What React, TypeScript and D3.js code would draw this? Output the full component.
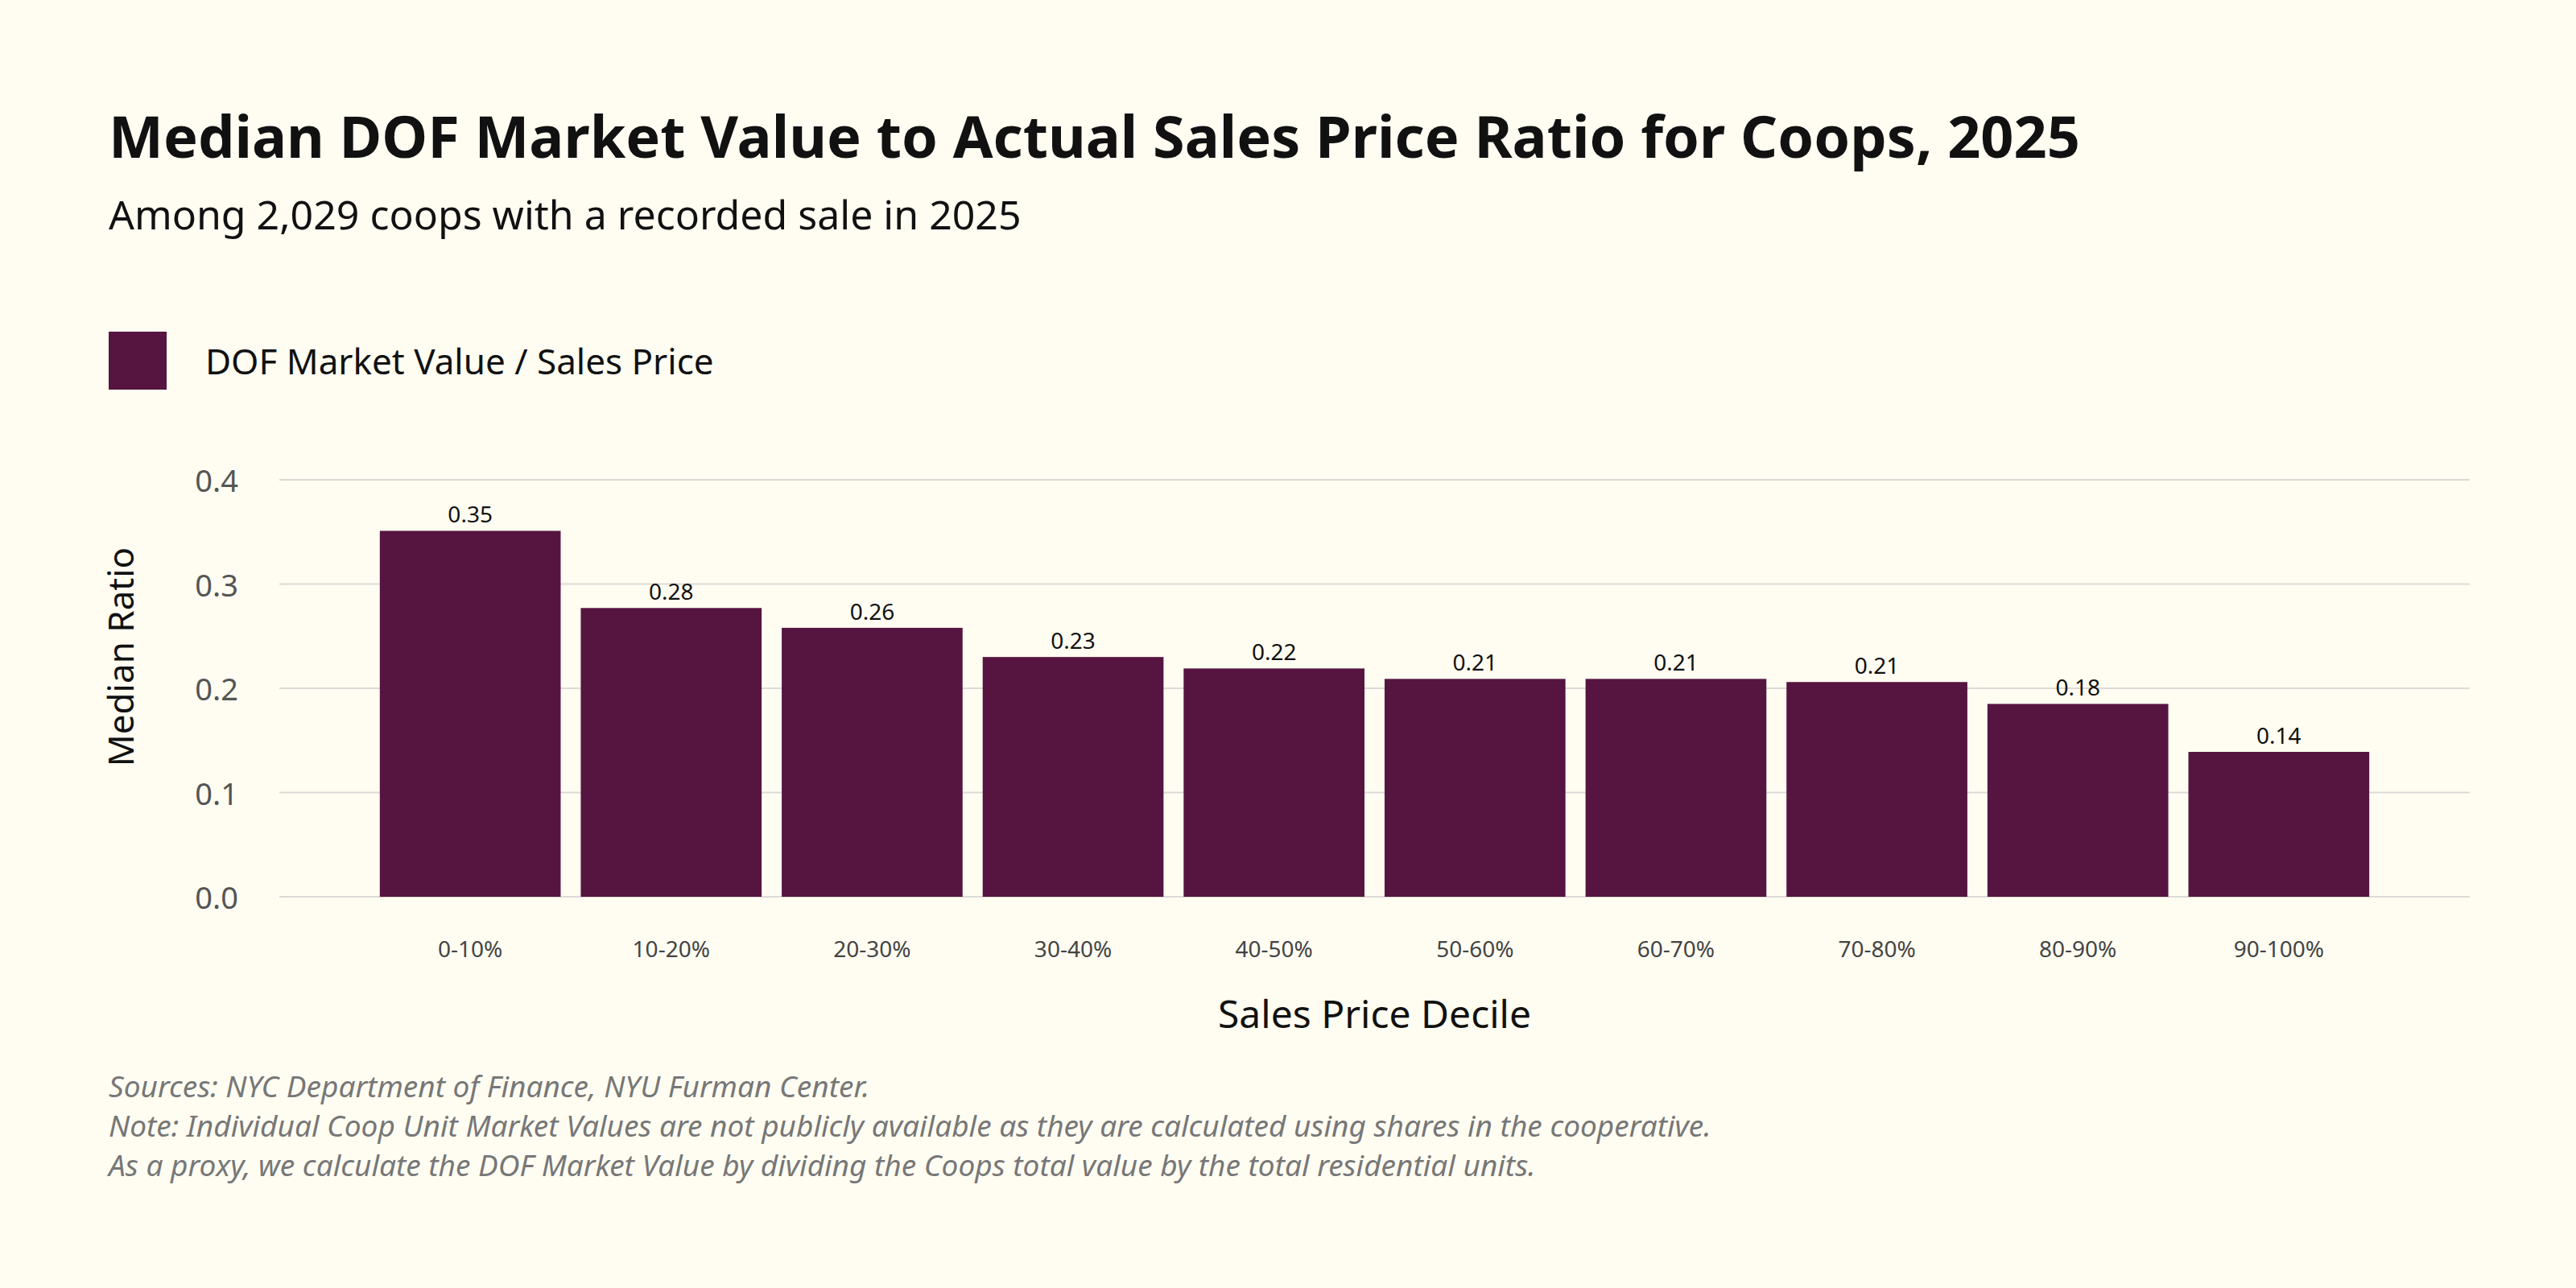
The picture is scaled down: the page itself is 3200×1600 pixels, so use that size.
import React from "react";
import * as d3 from "d3";

const categories = ["0-10%", "10-20%", "20-30%", "30-40%", "40-50%", "50-60%", "60-70%", "70-80%", "80-90%", "90-100%"];
const values = [0.351, 0.277, 0.258, 0.23, 0.219, 0.209, 0.209, 0.206, 0.185, 0.139];
const labels = ["0.35", "0.28", "0.26", "0.23", "0.22", "0.21", "0.21", "0.21", "0.18", "0.14"];
const yTicks = [0, 0.1, 0.2, 0.3, 0.4];
const notes = [
  "Sources: NYC Department of Finance, NYU Furman Center.",
  "Note: Individual Coop Unit Market Values are not publicly available as they are calculated using shares in the cooperative.",
  "As a proxy, we calculate the DOF Market Value by dividing the Coops total value by the total residential units.",
];

const W = 3200, H = 1600;
const FONT = "'Noto Sans', 'Open Sans', sans-serif";
const BAR = "#561540";

export default function App() {
  const x = d3.scaleBand<string>().domain(categories).range([347, 3068]).paddingInner(0.1).paddingOuter(0.5);
  const y = d3.scaleLinear().domain([0, 0.4]).range([1114, 596]);
  return (
    <svg width={W} height={H} style={{ position: "absolute", left: 0, top: 0, display: "block" }} fontFamily={FONT}>
      <rect width={W} height={H} fill="#fffdf2" />
      <text x={135} y={196} fontSize={72} fontWeight={700} fill="#111">Median DOF Market Value to Actual Sales Price Ratio for Coops, 2025</text>
      <text x={135} y={285} fontSize={50} fill="#111">Among 2,029 coops with a recorded sale in 2025</text>
      <rect x={135} y={412} width={72} height={72} fill={BAR} />
      <text x={255} y={448} fontSize={44} fill="#111" dominantBaseline="central">DOF Market Value / Sales Price</text>
      {yTicks.map((t) => (
        <g key={t}>
          <line x1={347} x2={3068} y1={y(t)} y2={y(t)} stroke="#dcd9d6" strokeWidth={2} />
          <text x={296} y={y(t)} fontSize={38} fill="#555" textAnchor="end" dominantBaseline="central">{t.toFixed(1)}</text>
        </g>
      ))}
      {categories.map((c, i) => (
        <g key={c}>
          <rect x={x(c)} y={y(values[i])} width={x.bandwidth()} height={y(0) - y(values[i])} fill={BAR} />
          <text x={x(c)! + x.bandwidth() / 2} y={y(values[i]) - 10} fontSize={28} fill="#111" textAnchor="middle">{labels[i]}</text>
          <text x={x(c)! + x.bandwidth() / 2} y={1178} fontSize={28} fill="#444" textAnchor="middle" dominantBaseline="central">{c}</text>
        </g>
      ))}
      <text x={(347 + 3068) / 2} y={1258} fontSize={48} fill="#111" textAnchor="middle" dominantBaseline="central">Sales Price Decile</text>
      <text transform="translate(149,816) rotate(-90)" fontSize={44} fill="#111" textAnchor="middle" dominantBaseline="central">Median Ratio</text>
      {notes.map((n, i) => (
        <text key={i} x={135} y={1363 + i * 49} fontSize={37} fontStyle="italic" fill="#777">{n}</text>
      ))}
    </svg>
  );
}
